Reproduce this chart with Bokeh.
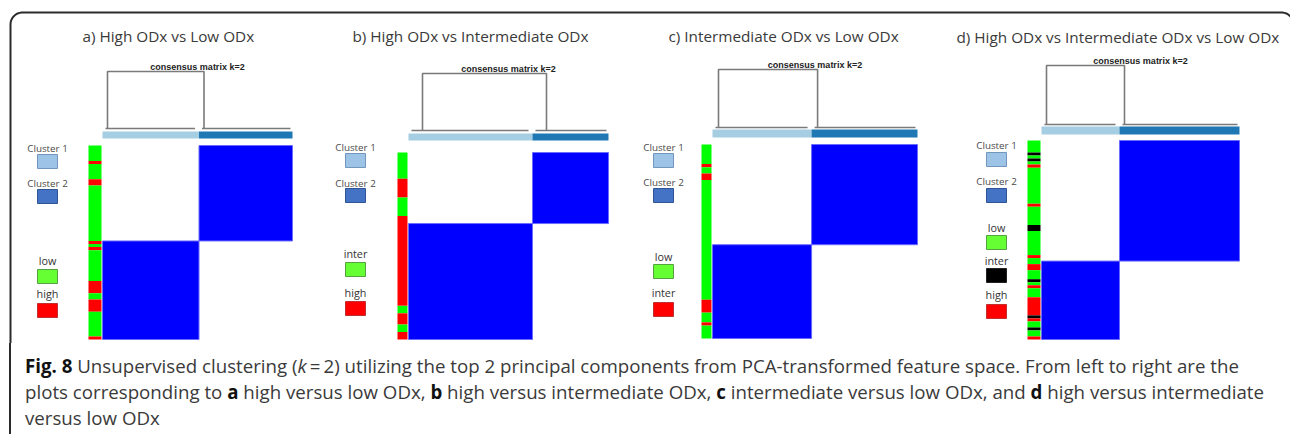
import numpy as np
from bokeh.plotting import figure
from bokeh.models import Range1d, Div
from bokeh.layouts import column
from bokeh.core.properties import value
from bokeh.embed import file_html
from bokeh.resources import INLINE

# ---------------- data ----------------
titles = ["a) High ODx vs Low ODx",
          "b) High ODx vs Intermediate ODx",
          "c) Intermediate ODx vs Low ODx",
          "d) High ODx vs Intermediate ODx vs Low ODx"]
dendro_label = "consensus matrix k=2"

# samples in consensus cluster 1 / cluster 2
a_sizes = [32, 31]
b_sizes = [31, 19]
c_sizes = [29, 31]
d_sizes = [26, 40]

# class annotation (rows from top), run labels and run lengths
a_ann_labels = ["low", "high", "low", "high", "low", "high", "low", "high", "low", "high", "low", "high", "low", "high"]
a_ann_counts = [5, 1, 5, 2, 18, 1, 1, 1, 10, 4, 2, 4, 8, 1]
b_ann_labels = ["inter", "high", "inter", "high", "inter", "high", "inter", "high"]
b_ann_counts = [7, 5, 5, 24, 2, 3, 2, 2]
c_ann_labels = ["low", "inter", "low", "inter", "low", "inter", "low", "inter", "low"]
c_ann_counts = [6, 1, 2, 2, 37, 4, 3, 1, 4]
d_ann_labels = ["low", "inter", "low", "inter", "low", "high", "low", "high", "low", "inter", "low", "high", "low",
                "high", "low", "inter", "low", "high", "low", "high", "inter", "high", "low", "inter", "low", "high"]
d_ann_counts = [4, 1, 1, 1, 1, 1, 12, 1, 6, 2, 8, 1, 2, 2, 3, 1, 1, 1, 3, 6, 1, 1, 2, 1, 2, 1]

a_legend = ["Cluster 1", "Cluster 2", "low", "high"]
b_legend = ["Cluster 1", "Cluster 2", "inter", "high"]
c_legend = ["Cluster 1", "Cluster 2", "low", "inter"]
d_legend = ["Cluster 1", "Cluster 2", "low", "inter", "high"]

a_class_colors = {"low": "#00ff00", "high": "#ff0000"}
b_class_colors = {"inter": "#00ff00", "high": "#ff0000"}
c_class_colors = {"low": "#00ff00", "inter": "#ff0000"}
d_class_colors = {"low": "#00ff00", "inter": "#000000", "high": "#ff0000"}

caption_lines = [
    '<b style="color:#111">Fig. 8</b> Unsupervised clustering (<i>k</i>&thinsp;=&thinsp;2) utilizing the top 2 principal '
    'components from PCA-transformed feature space. From left to right are the',
    'plots corresponding to <b style="color:#111">a</b> high versus low ODx, <b style="color:#111">b</b> high versus '
    'intermediate ODx, <b style="color:#111">c</b> intermediate versus low ODx, and <b style="color:#111">d</b> high '
    'versus intermediate',
    'versus low ODx',
]

# ---------------- layout / style ----------------
legend_fill = {"Cluster 1": "#9dc3e6", "Cluster 2": "#4472c4", "low": "#66ff33", "high": "#ff0000"}
legend_line = {"Cluster 1": "#7396bf", "Cluster 2": "#2f5597", "#66ff33": "#55a040", "#ff0000": "#c03030",
               "#000000": "#222222"}

panels = [
    dict(title=titles[0], sizes=a_sizes, ann_labels=a_ann_labels, ann_counts=a_ann_counts, legend=a_legend,
         colors=a_class_colors, inter_fill=None),
    dict(title=titles[1], sizes=b_sizes, ann_labels=b_ann_labels, ann_counts=b_ann_counts, legend=b_legend,
         colors=b_class_colors, inter_fill="#66ff33"),
    dict(title=titles[2], sizes=c_sizes, ann_labels=c_ann_labels, ann_counts=c_ann_counts, legend=c_legend,
         colors=c_class_colors, inter_fill="#ff0000"),
    dict(title=titles[3], sizes=d_sizes, ann_labels=d_ann_labels, ann_counts=d_ann_counts, legend=d_legend,
         colors=d_class_colors, inter_fill="#000000"),
]

layouts = [
    dict(title_x=82, title_y=35, heat=(102, 292, 145, 339), bar=(88, 101), cbar=(131, 138), dtop=71, dbot=128,
         leg_off=5, leg_x=37, leg_rows=[(148, 154), (183, 189), (260, 269), (293, 303)]),
    dict(title_x=352, title_y=35, heat=(408, 608, 152, 339), bar=(397, 407), cbar=(133, 140), dtop=73, dbot=130,
         leg_off=14, leg_x=345, leg_rows=[(147, 153), (183, 188), (253, 262), (292, 301)]),
    dict(title_x=668, title_y=35, heat=(712, 917, 144, 338), bar=(701, 711), cbar=(129, 137), dtop=69, dbot=127,
         leg_off=6, leg_x=653, leg_rows=[(147, 153), (182, 188), (256, 264), (292, 302)]),
    dict(title_x=956, title_y=36, heat=(1041, 1239, 140, 339), bar=(1027, 1040), cbar=(126, 134), dtop=65, dbot=124,
         leg_off=5, leg_x=986, leg_rows=[(145, 152), (181, 188), (227, 235), (260, 268), (294, 304)]),
]

W, H_TOP, H_CAP = 1290, 343, 91
FRAME_L, FRAME_R, FRAME_T = 10, 1293, 12

p = figure(width=W, height=H_TOP, x_range=Range1d(0, W), y_range=Range1d(H_TOP, 0),
           output_backend="svg", toolbar_location=None, x_axis_type=None, y_axis_type=None,
           min_border=0, min_border_left=0, min_border_right=0, min_border_top=0, min_border_bottom=0)
p.grid.visible = False
p.outline_line_color = None
p.background_fill_color = "white"
p.border_fill_color = "white"

# frame with rounded top corners (right edge lies at the window border)
r = 12
t = np.linspace(0, np.pi / 2, 20)
fx = ([FRAME_L] + list(FRAME_L + r - r * np.cos(t)) + list(FRAME_R - r + r * np.cos(t[::-1])) + [FRAME_R])
fy = ([H_TOP] + list(FRAME_T + r - r * np.sin(t)) + list(FRAME_T + r - r * np.sin(t[::-1])) + [H_TOP])
p.line(fx, fy, line_color="#2b2b2b", line_width=2)

for P, L in zip(panels, layouts):
    hx0, hx1, hy0, hy1 = L["heat"]
    n1, n2 = P["sizes"]
    N = n1 + n2
    sx = hx0 + (hx1 - hx0) * n1 / N
    sy = hy0 + (hy1 - hy0) * n2 / N

    # title
    p.text(x=[L["title_x"]], y=[L["title_y"]], text=[P["title"]], text_font=value("Open Sans"),
           text_font_size=value("15.3px"), text_color="#3a3a3a", text_align="left", text_baseline="middle")

    # consensus matrix blocks
    p.quad(left=[sx, hx0], right=[hx1, sx], top=[hy0, sy], bottom=[sy, hy1],
           fill_color="#0000ff", line_color="#6b6bff", line_width=1)

    # class annotation bar
    counts = np.array(P["ann_counts"], dtype=float)
    edges = np.concatenate([[0.0], np.cumsum(counts)])
    unit = (hy1 - hy0) / edges[-1]
    cols = [P["colors"][lab] for lab in P["ann_labels"]]
    p.quad(left=L["bar"][0], right=L["bar"][1], top=hy0 + edges[:-1] * unit, bottom=hy0 + edges[1:] * unit,
           fill_color=cols, line_color=None)

    # cluster colour bar
    c0, c1 = L["cbar"]
    p.quad(left=[hx0, sx], right=[sx, hx1], top=[c0, c0], bottom=[c1, c1],
           fill_color=["#a6cee3", "#1f78b4"], line_color=None)

    # dendrogram
    dt, db = L["dtop"], L["dbot"]
    lx, rx = hx0 + L["leg_off"], sx + L["leg_off"]
    p.multi_line(xs=[[lx, lx, rx, rx], [hx0 + 3, sx - 4], [sx + 3, hx1 - 2]],
                 ys=[[db, dt, dt, db], [db, db], [db, db]], line_color="#7a7a7a", line_width=1.6)
    p.text(x=[(hx0 + hx1) / 2], y=[dt - 5], text=[dendro_label], text_font=value("Liberation Sans"),
           text_font_size=value("9px"), text_font_style="bold", text_color="#222222",
           text_align="center", text_baseline="middle")

    # legend
    bx = L["leg_x"]
    for lab, (ty, btop) in zip(P["legend"], L["leg_rows"]):
        fill = P["inter_fill"] if lab == "inter" else legend_fill[lab]
        line = legend_line[lab] if lab.startswith("Cluster") else legend_line[fill]
        p.quad(left=[bx], right=[bx + 20], top=[btop], bottom=[btop + 14], fill_color=fill,
               line_color=line, line_width=1)
        is_cluster = lab.startswith("Cluster")
        p.text(x=[bx + 10], y=[ty], text=[lab], text_font=value("Open Sans"),
               text_font_size=value("9.8px" if is_cluster else "10.8px"),
               text_color="#4a4a4a" if is_cluster else "#333333",
               text_align="center", text_baseline="middle")

caption_html = (
    '<div style="margin-left:%dpx;width:%dpx;border-left:2px solid #2b2b2b;'
    'height:%dpx;box-sizing:border-box;padding:10px 0 0 14px;font-family:\'Open Sans\';font-size:18.7px;'
    'line-height:26px;color:#3a3a3a;white-space:nowrap;overflow:hidden;">%s</div>'
    % (FRAME_L - 1, W - FRAME_L + 1, H_CAP, "<br>".join(caption_lines))
)
div = Div(text=caption_html, width=W, height=H_CAP, margin=0)

layout = column(p, div, spacing=0)
open("out.html", "w").write(file_html(layout, INLINE))
